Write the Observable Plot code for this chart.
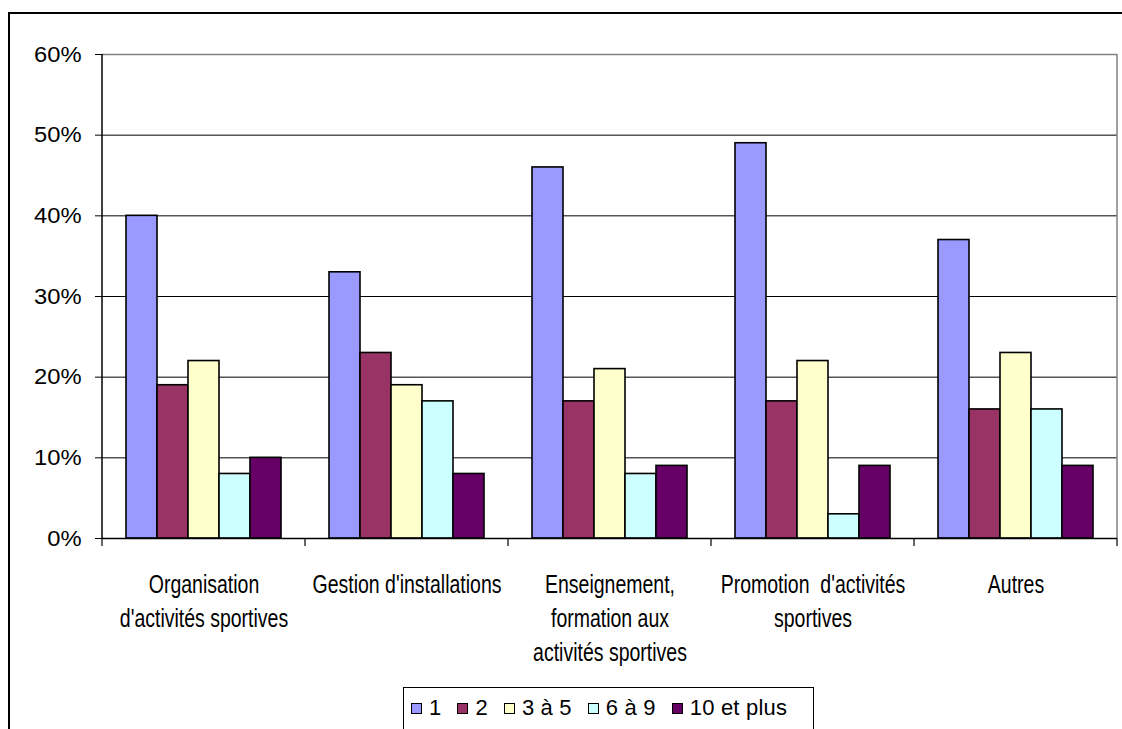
<!DOCTYPE html>
<html>
<head>
<meta charset="utf-8">
<script src="https://cdn.jsdelivr.net/npm/d3@7"></script>
<script src="https://cdn.jsdelivr.net/npm/@observablehq/plot@0.6"></script>
<style>
  html, body { margin: 0; padding: 0; background: #fff; }
  body { width: 1122px; height: 729px; position: relative; overflow: hidden; font-family: "Liberation Sans", Arial, sans-serif; }
  #frame { position: absolute; left: 8px; top: 12px; width: 1300px; height: 900px; border: 2px solid #000; box-sizing: border-box; }
  #chart { position: absolute; left: 0; top: 0; }
  #legend { position: absolute; left: 403px; top: 687px; width: 411px; height: 80px; border: 1px solid #000; box-sizing: border-box; background: #fff;
            display: flex; align-items: flex-start; padding: 6px 0 0 7px; font-size: 22px; line-height: 28px; color: #000; }
  .item { display: flex; align-items: center; margin-right: 16px; }
  .sw { width: 9px; height: 9px; border: 1.5px solid #000; margin-right: 7px; }
  .lab { display: inline-block; letter-spacing: 0.2px; }
</style>
</head>
<body>
<div id="frame"></div>
<div id="chart"></div>
<div id="legend"></div>
<script>
// ---- data ----
const categories = [
  "Organisation d'activités sportives",
  "Gestion d'installations",
  "Enseignement, formation aux activités sportives",
  "Promotion d'activités sportives",
  "Autres"
];
const categoryLabels = [
  "Organisation\nd'activités sportives",
  "Gestion d'installations",
  "Enseignement,\nformation aux\nactivités sportives",
  "Promotion  d'activités\nsportives",
  "Autres"
];
const series = ["1", "2", "3 à 5", "6 à 9", "10 et plus"];
const colors = ["#9999FF", "#993366", "#FFFFCC", "#CCFFFF", "#660066"];
const values1 = [40, 33, 46, 49, 37];
const values2 = [19, 23, 17, 17, 16];
const values3 = [22, 19, 21, 22, 23];
const values4 = [8, 17, 8, 3, 16];
const values5 = [10, 8, 9, 9, 9];
const yTicks = [0, 10, 20, 30, 40, 50, 60];

const seriesValues = [values1, values2, values3, values4, values5];
const data = categories.flatMap((c, i) =>
  series.map((s, j) => ({cat: c, series: s, value: seriesValues[j][i]}))
);

const chart = Plot.plot({
  width: 1122,
  height: 729,
  marginLeft: 100,
  marginRight: 4,
  marginTop: 54,
  marginBottom: 191,
  style: {fontFamily: "'Liberation Sans', Arial, sans-serif", background: "transparent", overflow: "visible"},
  fx: {domain: categories, padding: 0, axis: null},
  x: {domain: series, paddingInner: 0, paddingOuter: 0.75, axis: null},
  y: {domain: [0, 60], axis: null},
  color: {domain: series, range: colors},
  marks: [
    Plot.gridY({ticks: yTicks.filter(t => t > 0 && t < 60), stroke: "#000", strokeOpacity: 1, strokeWidth: 1}),
    Plot.ruleY([60], {stroke: "#808080", strokeWidth: 1.5}),
    Plot.barY(data, {fx: "cat", x: "series", y: "value", fill: "series", stroke: "#000", strokeWidth: 1.6}),
    Plot.ruleY([0], {stroke: "#000", strokeWidth: 1.5}),
    Plot.axisY({ticks: yTicks, tickFormat: d => d + "%", tickSize: 7, tickPadding: 14, fontSize: 22,
      stroke: "#000", fill: "#000", label: null}),
    Plot.text(categories, {fx: d => d, text: (d, i) => categoryLabels[i], frameAnchor: "bottom", lineAnchor: "top",
      dy: 30, fontSize: 25, lineHeight: 1.36, fill: "#000"})
  ]
});
document.getElementById("chart").appendChild(chart);

// horizontal scaling of text to mimic the original rendering
function squeeze(sel, s) {
  chart.querySelectorAll(sel).forEach(t => {
    const tr = t.getAttribute("transform");
    if (tr) t.setAttribute("transform", tr + ` scale(${s},1)`);
    else {
      const x = +(t.getAttribute("x") || 0);
      t.setAttribute("transform", `translate(${x},0) scale(${s},1) translate(${-x},0)`);
    }
  });
}
squeeze('g[aria-label="text"] text', 0.78);
squeeze('g[aria-label="y-axis tick label"] text', 1.08);

// axis lines and category ticks, positioned from Plot's scales
const fx = chart.scale("fx");
const y = chart.scale("y");
const svg = d3.select(chart);
const left = fx.apply(categories[0]);
const right = fx.apply(categories[categories.length - 1]) + fx.bandwidth;
const y0 = y.apply(0), yTop = y.apply(60);
const g = svg.append("g");
g.append("line").attr("x1", right).attr("x2", right).attr("y1", yTop).attr("y2", y0)
  .attr("stroke", "#808080").attr("stroke-width", 1.5);
g.append("line").attr("x1", left).attr("x2", left).attr("y1", yTop).attr("y2", y0)
  .attr("stroke", "#000").attr("stroke-width", 1.5);
const edges = categories.map(c => fx.apply(c)).concat([right]);
g.selectAll("line.t").data(edges).join("line")
  .attr("x1", d => d).attr("x2", d => d).attr("y1", y0).attr("y2", y0 + 8)
  .attr("stroke", "#000").attr("stroke-width", 1.2);

// legend
const legend = d3.select("#legend");
series.forEach((s, i) => {
  const it = legend.append("div").attr("class", "item");
  it.append("div").attr("class", "sw").style("background", colors[i]);
  it.append("span").attr("class", "lab").text(s);
});
</script>
</body>
</html>
